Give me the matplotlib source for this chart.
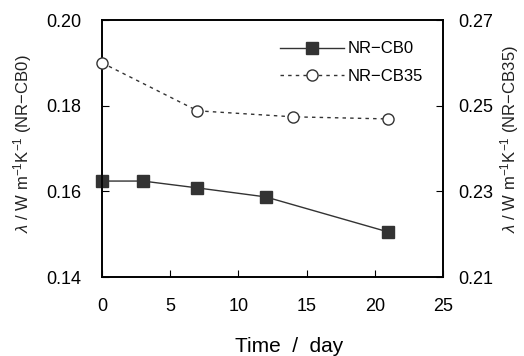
import matplotlib
matplotlib.use("Agg")
import matplotlib.pyplot as plt

plt.rcParams['font.family'] = ['Liberation Sans', 'DejaVu Sans']
plt.rcParams['mathtext.fontset'] = 'custom'
plt.rcParams['mathtext.rm'] = 'Liberation Sans'
plt.rcParams['mathtext.it'] = 'Liberation Sans:italic'
plt.rcParams['mathtext.default'] = 'rm'

days_cb0 = [0, 3, 7, 12, 21]
lam_cb0 = [0.1624, 0.1624, 0.1608, 0.1587, 0.1505]
days_cb35 = [0, 7, 14, 21]
lam_cb35 = [0.2600, 0.2488, 0.2474, 0.2469]
xticks = [0, 5, 10, 15, 20, 25]
yticks_left = [0.14, 0.16, 0.18, 0.20]
yticks_right = [0.21, 0.23, 0.25, 0.27]

fig = plt.figure(figsize=(5.24, 3.56), dpi=100)
ax = fig.add_axes([0.1947, 0.2219, 0.6507, 0.7219])
ax2 = ax.twinx()

col = '#333333'
l1, = ax.plot(days_cb0, lam_cb0, '-', color=col, lw=1.0, marker='s', ms=8,
              mfc=col, mec=col, label='NR\u2212CB0', clip_on=False, zorder=5)
l2, = ax2.plot(days_cb35, lam_cb35, linestyle=(0, (2.5, 3)), color=col, lw=1.0,
               marker='o', ms=8, mfc='white', mec=col, mew=1.0,
               label='NR\u2212CB35', clip_on=False, zorder=5)

ax.set_xlim(0, 25)
ax.set_ylim(0.14, 0.20)
ax2.set_ylim(0.21, 0.27)
ax.set_xticks(xticks)
ax.set_yticks(yticks_left)
ax.set_yticklabels(['%.2f' % v for v in yticks_left])
ax2.set_yticks(yticks_right)
ax2.set_yticklabels(['%.2f' % v for v in yticks_right])

fs = 13
ax.tick_params(axis='x', direction='in', length=5, pad=15, labelsize=fs, top=False)
ax.tick_params(axis='y', direction='in', length=5, pad=15, labelsize=fs)
ax2.tick_params(axis='y', direction='in', length=5, pad=11, labelsize=fs)

for a in (ax, ax2):
    for s in a.spines.values():
        s.set_linewidth(1.2)
        s.set_color('black')

ax.set_xlabel('Time  /  day', fontsize=15, labelpad=16)
ax.xaxis.label.set_x(0.548)
ylab = r'$\mathit{\lambda}$ / W m$^{-1}$K$^{-1}$ (NR' + '\u2212' + 'CB0)'
ylab2 = r'$\mathit{\lambda}$ / W m$^{-1}$K$^{-1}$ (NR' + '\u2212' + 'CB35)'
fig.text(0.043, 1 - 233 / 356, ylab, rotation=90,
         ha='center', va='bottom', fontsize=12, color='#222222')
fig.text(0.973, 1 - 233 / 356, ylab2, rotation=90,
         ha='center', va='bottom', fontsize=12, color='#222222')

leg = ax.legend(handles=[l1, l2], loc='upper right', bbox_to_anchor=(0.985, 0.975),
                frameon=False, fontsize=12, handlelength=3.85, handletextpad=0.2,
                labelspacing=0.75)

fig.savefig('out.png', dpi=100)
